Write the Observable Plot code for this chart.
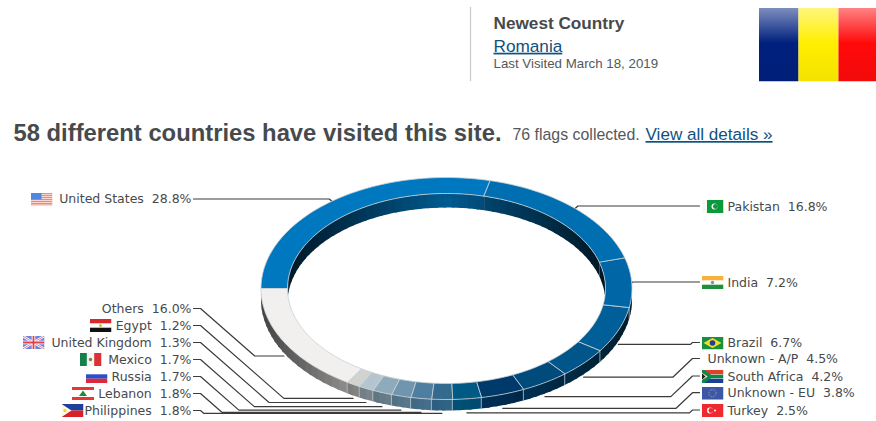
<!DOCTYPE html>
<html>
<head>
<meta charset="utf-8">
<style>
  html, body { margin: 0; padding: 0; background: #fff; }
  .link text { text-decoration: underline; }
</style>
<script src="https://cdn.jsdelivr.net/npm/d3@7"></script>
<script src="https://cdn.jsdelivr.net/npm/@observablehq/plot@0.6"></script>
</head>
<body>
<div id="chart"></div>
<script>
// Visitor share per country, clockwise from the left edge of the ring.
const countries = ["United States", "Pakistan", "India", "Brazil", "Unknown - A/P", "South Africa",
  "Unknown - EU", "Turkey", "Philippines", "Lebanon", "Russia", "Mexico", "United Kingdom", "Egypt", "Others"];
const shares = [28.8, 16.8, 7.2, 6.7, 4.5, 4.2, 3.8, 2.5, 1.8, 1.8, 1.7, 1.7, 1.3, 1.2, 16.0];
const sliceColors = ["#0078c0", "#006fb2", "#0066a6", "#005f98", "#00558a", "#004a7c", "#003a6b", "#005a85",
  "#336a8e", "#4f7fa0", "#6f96ae", "#8eabbc", "#b4c5cf", "#d2d2d0", "#f2f0ee"];

// Label rows: left column is right-aligned, right column starts after the flag.
const rowY = [198.5, 206, 282, 342.5, 358.5, 376, 392.7, 410, 410, 393, 376, 359, 342, 325, 308];
const rowSide = ["L", "R", "R", "R", "R", "R", "R", "R", "L", "L", "L", "L", "L", "L", "L"];
const flagX = [41, 712, 712, 712, null, 712, 712, 712, 72, 82.5, 96, 90, 33, 100, null];

const svgFlag = body => "data:image/svg+xml," + encodeURIComponent(
  `<svg xmlns="http://www.w3.org/2000/svg" viewBox="0 0 22 13" preserveAspectRatio="none">${body}</svg>`);
const crescent = (cx, moon) => `<circle cx="${cx}" cy="6.5" r="3" fill="#fff"/><circle cx="${cx + 0.9}" cy="6.5" r="2.4" fill="${moon}"/>`;
const flagArt = {
  "United States": svgFlag(`<rect width="22" height="13" fill="#fbd5cf"/><path d="M0 1h22M0 3h22M0 5h22M0 7h22M0 9h22M0 11h22M0 12.6h22" stroke="#f0887c" stroke-width="1"/><rect width="11" height="7" fill="#4f86e0"/>`),
  "Pakistan": svgFlag(`<rect width="22" height="13" fill="#f6faf6"/><rect x="5.5" width="16.5" height="13" fill="#0a9a3c"/>${crescent(13, "#0a9a3c")}`),
  "India": svgFlag(`<rect width="22" height="13" fill="#fff"/><rect width="22" height="4.3" fill="#f7b23e"/><rect y="8.7" width="22" height="4.3" fill="#1f8f3a"/><circle cx="11" cy="6.5" r="1.7" fill="#8a8ac0"/>`),
  "Brazil": svgFlag(`<rect width="22" height="13" fill="#17913d"/><path d="M11 1.5L20 6.5L11 11.5L2 6.5Z" fill="#f5dc30"/><circle cx="11" cy="6.5" r="2.8" fill="#24408e"/>`),
  "South Africa": svgFlag(`<rect width="22" height="13" fill="#fff"/><rect width="22" height="4.3" fill="#e0402c"/><rect y="8.7" width="22" height="4.3" fill="#1b3f94"/><path d="M0 0L9 6.5L22 6.5M0 13L9 6.5" fill="none" stroke="#0a8a4a" stroke-width="3.4"/><path d="M0 2.6L4.5 6.5L0 10.4Z" fill="#222" stroke="#f2c230" stroke-width="1"/>`),
  "Unknown - EU": svgFlag(`<rect width="22" height="13" fill="#3c57a8"/><circle cx="11" cy="6.5" r="3.6" fill="none" stroke="#a8a878" stroke-width="1" stroke-dasharray="1 0.9"/>`),
  "Turkey": svgFlag(`<rect width="22" height="13" fill="#ee2a2e"/>${crescent(8.5, "#ee2a2e")}<circle cx="13.5" cy="6.5" r="1" fill="#fff"/>`),
  "Philippines": svgFlag(`<rect width="22" height="6.5" fill="#1f3f9c"/><rect y="6.5" width="22" height="6.5" fill="#d8202c"/><path d="M0 0L10 6.5L0 13Z" fill="#fdf8e0"/><circle cx="3.4" cy="6.5" r="1.5" fill="#f2cf2e"/>`),
  "Lebanon": svgFlag(`<rect width="22" height="13" fill="#fff"/><rect width="22" height="3" fill="#e23a30"/><rect y="10" width="22" height="3" fill="#e23a30"/><path d="M11 3.6L15 9H7Z" fill="#1f8a3a"/>`),
  "Russia": svgFlag(`<rect width="22" height="13" fill="#fff"/><rect y="4.3" width="22" height="4.4" fill="#2a4fc8"/><rect y="8.7" width="22" height="4.3" fill="#e0283c"/>`),
  "Mexico": svgFlag(`<rect width="22" height="13" fill="#f6f6f0"/><rect width="7.3" height="13" fill="#14804a"/><rect x="14.7" width="7.3" height="13" fill="#dc3038"/><circle cx="11" cy="6.5" r="1.7" fill="#8a7a4a"/>`),
  "United Kingdom": svgFlag(`<rect width="22" height="13" fill="#6f86d8"/><path d="M0 0L22 13M22 0L0 13" stroke="#fff" stroke-width="2.4"/><path d="M0 0L22 13M22 0L0 13" stroke="#e8707c" stroke-width="0.9"/><path d="M11 0V13M0 6.5H22" stroke="#fff" stroke-width="3.6"/><path d="M11 0V13M0 6.5H22" stroke="#e04050" stroke-width="1.8"/>`),
  "Egypt": svgFlag(`<rect width="22" height="13" fill="#fff"/><rect width="22" height="4.3" fill="#d8282c"/><rect y="8.7" width="22" height="4.3" fill="#111"/><circle cx="11" cy="6.5" r="1.5" fill="#e0b83a"/>`)
};
const newestFlag = svgFlag(`<defs><linearGradient id="gloss" x1="0" y1="0" x2="0" y2="1"><stop offset="0" stop-color="#fff" stop-opacity="0.5"/><stop offset="0.48" stop-color="#fff" stop-opacity="0"/><stop offset="0.5" stop-color="#000" stop-opacity="0"/><stop offset="1" stop-color="#000" stop-opacity="0.05"/></linearGradient></defs><rect width="7.33" height="13" fill="#00207e"/><rect x="7.33" width="7.33" height="13" fill="#ffee00"/><rect x="14.66" width="7.34" height="13" fill="#ff0a0a"/><rect width="22" height="13" fill="url(#gloss)"/>`);

// Ring geometry, in pixels of the page-sized frame.
const cx = 446, cy = 288, rxOuter = 185.5, ryOuter = 111, rxInner = 159, ryInner = 95;
const depthOuter = 11, depthInner = 14, leaderDrop = 14;
const rad = a => a * Math.PI / 180;
const onEllipse = (a, rx, ry, dy = 0) => ({x: cx + rx * Math.sin(rad(a)), y: cy - ry * Math.cos(rad(a)) + dy});
const range = (a0, a1, step = 1.5) => {
  const n = Math.max(1, Math.ceil((a1 - a0) / step));
  return d3.range(n + 1).map(i => a0 + (a1 - a0) * i / n);
};

let running = 0;
const slices = countries.map((name, i) => {
  const a0 = -90 + running * 3.6;
  running += shares[i];
  const a1 = -90 + running * 3.6;
  return {name, i, a0, a1, mid: (a0 + a1) / 2, color: sliceColors[i]};
});

const darken = (color, k) => d3.interpolateRgb(color, "#000")(Math.min(k, 0.85));

// Top face of every slice.
const topFace = slices.flatMap(s => [
  ...range(s.a0, s.a1).map(a => ({id: s.i, c: s.color, ...onEllipse(a, rxOuter, ryOuter)})),
  ...range(s.a0, s.a1).reverse().map(a => ({id: s.i, c: s.color, ...onEllipse(a, rxInner, ryInner)}))
]);

// Walls are built from narrow strips so the shading can follow the curve;
// each strip runs a little under the next one to hide seams.
function wall(from, to, rx, ry, depth, shade) {
  return slices.flatMap(s => {
    const a0 = Math.max(s.a0, from), a1 = Math.min(s.a1, to);
    if (a1 <= a0) return [];
    const stops = range(a0, a1, 3);
    return d3.pairs(stops).flatMap(([u, v]) => {
      const id = `${s.i}-${u}-${rx}`, c = darken(s.color, shade((u + v) / 2));
      const w = Math.min(v + 1, a1);
      return [onEllipse(u, rx, ry), onEllipse(w, rx, ry), onEllipse(w, rx, ry, depth), onEllipse(u, rx, ry, depth)]
        .map(p => ({id, c, ...p}));
    });
  });
}
const outerWall = wall(90, 270, rxOuter, ryOuter, depthOuter, a => 0.06 + 0.66 * Math.abs(Math.sin(rad(a))));
const innerWall = wall(-90, 90, rxInner, ryInner, depthInner, a => 0.25 + 0.55 * Math.abs(Math.sin(rad(a))));

// Thin light seams where two slices meet on the outer wall.
const wallSeams = slices.filter(s => s.a1 > 90 && s.a1 < 270).flatMap(s => [
  {id: s.i, ...onEllipse(s.a1, rxOuter, ryOuter)},
  {id: s.i, ...onEllipse(s.a1, rxOuter, ryOuter, depthOuter)}
]);

// Leaders run from each label to the middle of its slice's outer edge.
const labelEndX = {L: 193, R: 699};
const elbowStartX = {L: 200, R: 692};
const slope = {L: 0.875, R: 0.95};
const leaders = slices.flatMap(s => {
  const side = rowSide[s.i], dir = side === "L" ? 1 : -1;
  const front = Math.cos(rad(s.mid)) < 0;
  const end = onEllipse(s.mid, rxOuter, ryOuter, front ? leaderDrop : 0);
  const y0 = rowY[s.i] - (side === "R" ? 0.5 : 0);
  const dy = Math.abs(end.y - y0);
  const pts = front
    ? [{x: labelEndX[side], y: y0}, {x: elbowStartX[side], y: y0},
       {x: elbowStartX[side] + dir * dy / slope[side], y: end.y}, end]
    : [{x: labelEndX[side], y: y0}, {x: end.x - dir * dy / slope[side], y: y0}, end];
  return pts.map(p => ({id: s.i, ...p}));
});

const labels = slices.map(s => ({
  text: `${s.name}\u00a0\u00a0${shares[s.i].toFixed(1)}%`,
  side: rowSide[s.i],
  x: rowSide[s.i] === "L" ? 191 : (flagX[s.i] == null ? 707 : 727),
  y: rowY[s.i]
}));
const flags = slices.filter(s => flagArt[s.name]).map(s => ({x: flagX[s.i], y: rowY[s.i], src: flagArt[s.name]}));

const sans = "Liberation Sans, Arial, sans-serif";
const labelFont = "DejaVu Sans, Verdana, sans-serif";
const ink = "#474a4d", linkBlue = "#0f527f";

const chart = Plot.plot({
  width: 876,
  height: 421,
  margin: 0,
  x: {domain: [0, 876], range: [0, 876], axis: null},
  y: {domain: [0, 421], range: [0, 421], axis: null},
  color: {type: "identity"},
  style: {background: "#fff"},
  marks: [
    // Header block
    Plot.ruleX([470], {y1: 7, y2: 81, stroke: "#c9c9c9", strokeWidth: 1.2}),
    Plot.text(["Newest Country"], {x: 493, y: 23, textAnchor: "start", fontFamily: sans, fontWeight: "bold", fontSize: 17.2, fill: ink}),
    Plot.text(["Romania"], {x: 493, y: 45.7, textAnchor: "start", fontFamily: sans, fontSize: 17.2, fill: linkBlue, className: "link"}),
    Plot.text(["Last Visited March 18, 2019"], {x: 493, y: 63.5, textAnchor: "start", fontFamily: sans, fontSize: 13.3, fill: "#55585a"}),
    Plot.image([newestFlag], {x: 818, y: 44, width: 120, height: 74, src: d => d, preserveAspectRatio: "none"}),
    Plot.text(["58 different countries have visited this site."], {x: 13, y: 132.7, textAnchor: "start", fontFamily: sans, fontWeight: "bold", fontSize: 23.8, fill: ink}),
    Plot.text(["76 flags collected."], {x: 512, y: 134, textAnchor: "start", fontFamily: sans, fontSize: 15.9, fill: "#55585a"}),
    Plot.text(["View all details »"], {x: 645, y: 134, textAnchor: "start", fontFamily: sans, fontSize: 17.1, fill: linkBlue, className: "link"}),

    // Leaders sit under the ring
    Plot.line(leaders, {x: "x", y: "y", z: "id", stroke: "#3a3a3a", strokeWidth: 1.2, curve: "linear"}),

    // Ring: walls first, then the top face over them
    Plot.line(innerWall, {x: "x", y: "y", z: "id", fill: "c", stroke: "none", curve: "linear-closed"}),
    Plot.line(outerWall, {x: "x", y: "y", z: "id", fill: "c", stroke: "none", curve: "linear-closed"}),
    Plot.line(wallSeams, {x: "x", y: "y", z: "id", stroke: "#b9c2c8", strokeWidth: 0.7, curve: "linear"}),
    Plot.line(topFace, {x: "x", y: "y", z: "id", fill: "c", stroke: "#c9d0d4", strokeWidth: 0.8, curve: "linear-closed"}),

    // Label rows and their flags
    Plot.text(labels.filter(d => d.side === "L"), {x: "x", y: "y", text: "text", textAnchor: "end", fontFamily: labelFont, fontSize: 12.5, fill: ink}),
    Plot.text(labels.filter(d => d.side === "R"), {x: "x", y: "y", text: "text", textAnchor: "start", fontFamily: labelFont, fontSize: 12.5, fill: ink}),
    Plot.image(flags, {x: "x", y: "y", src: "src", width: 22, height: 13, preserveAspectRatio: "none"})
  ]
});
document.getElementById("chart").append(chart);
</script>
</body>
</html>
